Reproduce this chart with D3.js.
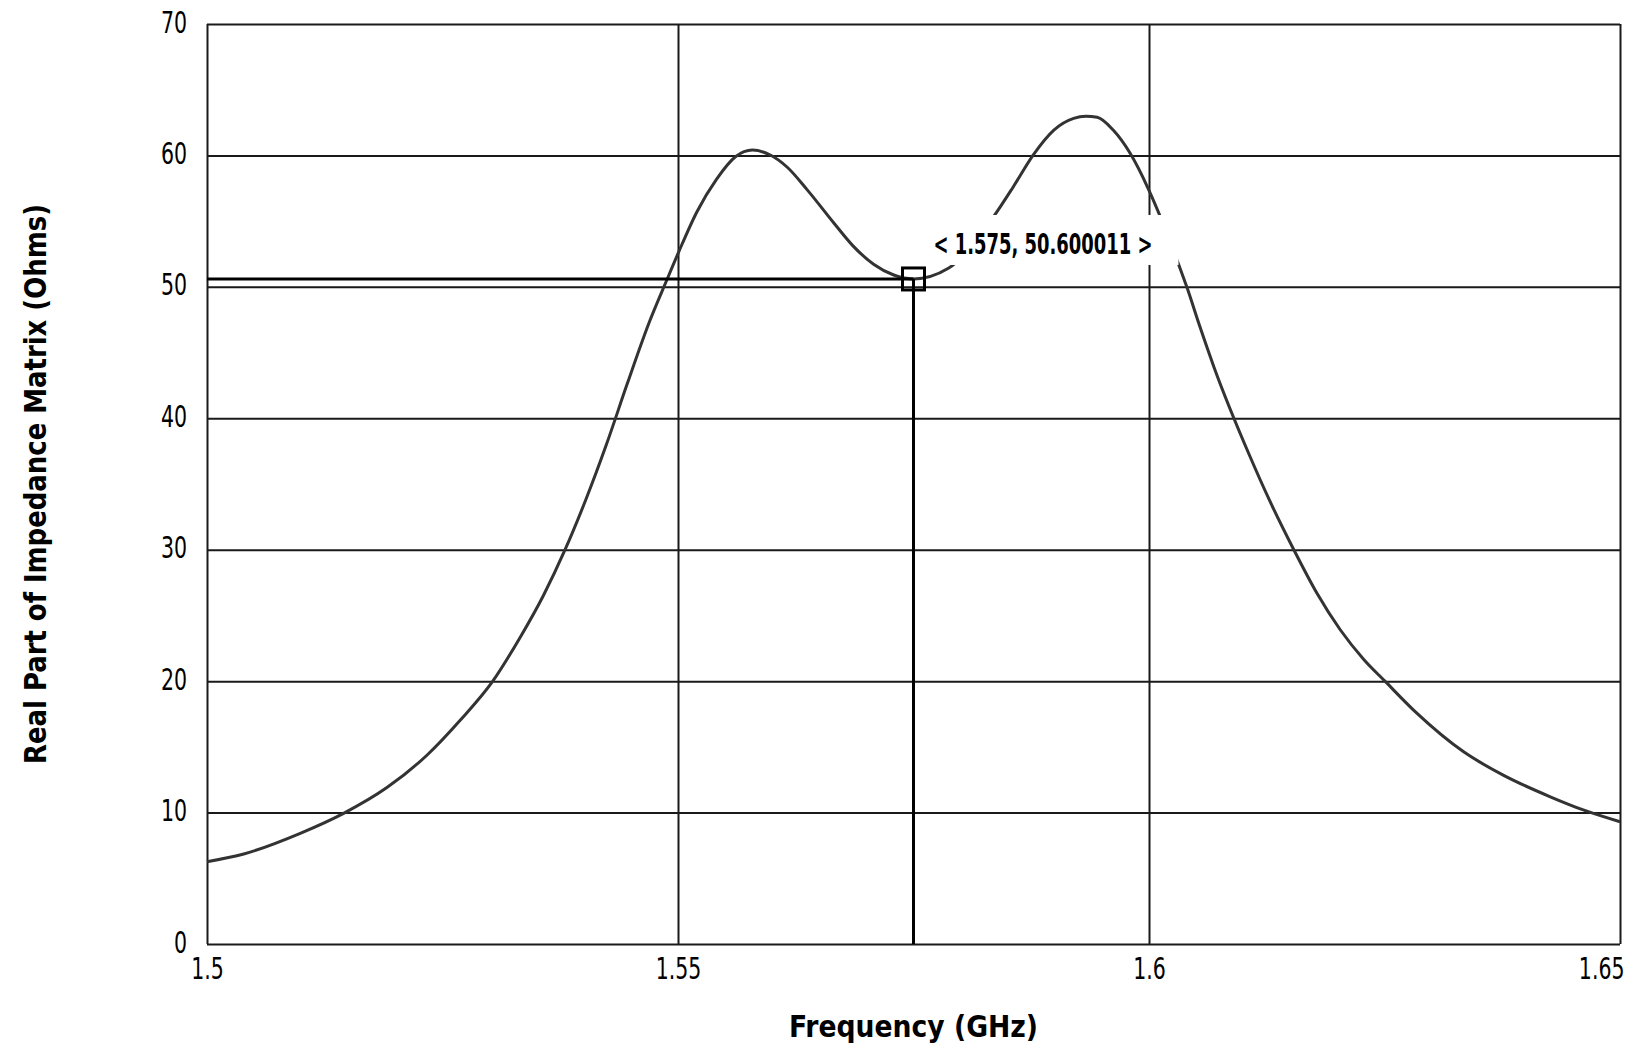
<!DOCTYPE html>
<html>
<head>
<meta charset="utf-8">
<script src="https://cdn.jsdelivr.net/npm/d3@7"></script>
<style>
  body { margin: 0; background: #fff; }
  text { font-family: "DejaVu Sans Condensed", "DejaVu Sans", sans-serif; fill: #000; }
</style>
</head>
<body>
<div id="chart"></div>
<script>
// frequency (GHz) and real part of Z (Ohms)
var freqs = [1.5000, 1.5039, 1.5099, 1.5145, 1.5191, 1.5234, 1.5269, 1.5303, 1.5333, 1.5357,
  1.5380, 1.5402, 1.5424, 1.5446, 1.5470, 1.5488, 1.5501, 1.5520, 1.5541, 1.5561,
  1.5579, 1.5598, 1.5616, 1.5637, 1.5665, 1.5686, 1.5708, 1.5729, 1.5750, 1.5787,
  1.5835, 1.5856, 1.5877, 1.5899, 1.5920, 1.5933, 1.5945, 1.5962, 1.5980, 1.5999,
  1.6012, 1.6031, 1.6040, 1.6054, 1.6069, 1.6107, 1.6128, 1.6154, 1.6178, 1.6203,
  1.6228, 1.6251, 1.6284, 1.6334, 1.6376, 1.6426, 1.6461, 1.6500];
var realZ = [6.26, 6.85, 8.42, 9.94, 11.9, 14.4, 17.04, 19.96, 23.4, 26.5,
  29.98, 33.78, 38.0, 42.6, 47.4, 50.5, 52.7, 55.7, 58.2, 59.9,
  60.41, 60.03, 59.1, 57.4, 54.9, 53.1, 51.7, 50.90, 50.60, 51.41,
  55.34, 57.62, 60.03, 61.93, 62.82, 62.98, 62.9, 61.93, 60.16, 57.50,
  55.34, 51.8, 50.02, 46.98, 43.89, 37.13, 33.75, 29.96, 26.72, 23.91,
  21.65, 19.96, 17.58, 14.62, 12.85, 11.2, 10.2, 9.3];

var xTicks = [1.5, 1.55, 1.6, 1.65];
var xTickLabels = ["1.5", "1.55", "1.6", "1.65"];
var yTicks = [0, 10, 20, 30, 40, 50, 60, 70];

var markerFreq = 1.575;
var markerValue = 50.600011;
var markerText = "< 1.575, 50.600011 >";

var W = 1639, H = 1057;
var margin = { top: 24, right: 19, bottom: 113, left: 207 };
var width = W - margin.left - margin.right;
var height = H - margin.top - margin.bottom;

var svg = d3.select("#chart").append("svg")
  .attr("width", W).attr("height", H);
var g = svg.append("g")
  .attr("transform", "translate(" + margin.left + "," + margin.top + ")");

var x = d3.scaleLinear().domain([1.5, 1.65]).range([0, width]);
var y = d3.scaleLinear().domain([0, 70]).range([height, 0]);

// grid + tick labels
var xAxis = g.append("g")
  .attr("transform", "translate(0," + height + ")")
  .call(d3.axisBottom(x).tickValues(xTicks).tickSize(-height)
    .tickFormat((d, i) => xTickLabels[i]).tickPadding(14));
var yAxis = g.append("g")
  .call(d3.axisLeft(y).tickValues(yTicks).tickSize(-width)
    .tickFormat(d3.format("d")).tickPadding(20));

[xAxis, yAxis].forEach(a => {
  a.select(".domain").remove();
  a.selectAll(".tick line").attr("stroke", "#1a1a1a").attr("stroke-width", 2);
  a.selectAll(".tick text").attr("font-size", 30).attr("fill", "#000")
    .attr("font-family", "DejaVu Sans Condensed")
    .each(function() {
      // the original uses a narrow bitmap font
      this.setAttribute("textLength", this.getComputedTextLength() * 0.76);
      this.setAttribute("lengthAdjust", "spacingAndGlyphs");
    });
});
yAxis.selectAll(".tick text").attr("dy", 8);
xAxis.selectAll(".tick text").attr("dy", "0.71em");
// last x label is pulled in so it stays inside the page
xAxis.selectAll(".tick text").filter((d, i) => i == xTicks.length - 1)
  .attr("text-anchor", "end").attr("x", 4);

// curve
var line = d3.line()
  .x((d, i) => x(freqs[i]))
  .y(d => y(d))
  .curve(d3.curveMonotoneX);

g.append("path")
  .datum(realZ)
  .attr("d", line)
  .attr("fill", "none")
  .attr("stroke", "#333")
  .attr("stroke-width", 3);

// marker lines
var mx = x(markerFreq), my = y(markerValue);
g.append("line")
  .attr("x1", 0).attr("x2", mx).attr("y1", my).attr("y2", my)
  .attr("stroke", "#000").attr("stroke-width", 3);
g.append("line")
  .attr("x1", mx).attr("x2", mx).attr("y1", my).attr("y2", height)
  .attr("stroke", "#000").attr("stroke-width", 3);
g.append("rect")
  .attr("x", mx - 11).attr("y", my - 11)
  .attr("width", 22).attr("height", 22)
  .attr("fill", "none").attr("stroke", "#000").attr("stroke-width", 3);

// marker label on white box
g.append("rect")
  .attr("x", mx + 17).attr("y", my - 64)
  .attr("width", 248).attr("height", 50)
  .attr("fill", "#fff");
g.append("text")
  .attr("x", mx + 20).attr("y", my - 25)
  .attr("font-size", 28).attr("font-weight", "bold")
  .attr("textLength", 219).attr("lengthAdjust", "spacingAndGlyphs")
  .text(markerText);

// axis titles
svg.append("text")
  .attr("x", margin.left + width / 2).attr("y", 1037)
  .attr("text-anchor", "middle")
  .attr("font-size", 30).attr("font-weight", "bold")
  .attr("textLength", 249).attr("lengthAdjust", "spacingAndGlyphs")
  .text("Frequency (GHz)");

svg.append("text")
  .attr("transform", "translate(46," + (margin.top + height / 2) + ") rotate(-90)")
  .attr("text-anchor", "middle")
  .attr("font-size", 30).attr("font-weight", "bold")
  .attr("textLength", 560).attr("lengthAdjust", "spacingAndGlyphs")
  .text("Real Part of Impedance Matrix (Ohms)");
</script>
</body>
</html>
